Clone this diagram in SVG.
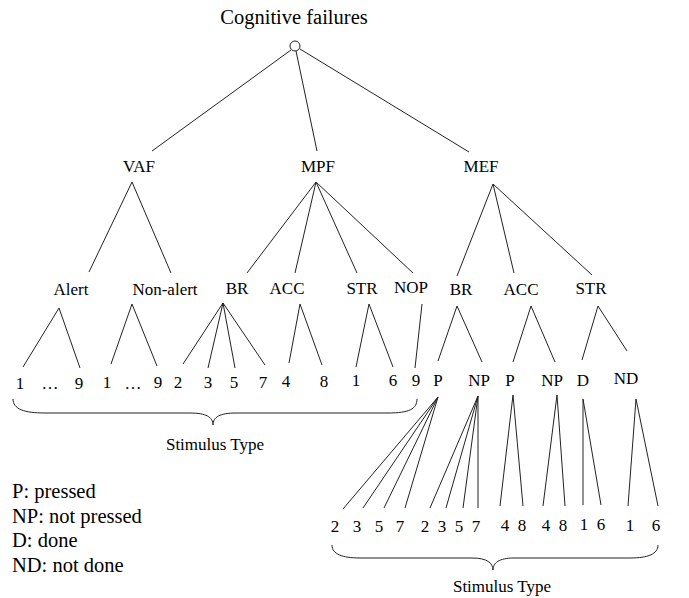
<svg xmlns="http://www.w3.org/2000/svg" width="689" height="598" viewBox="0 0 689 598">
<style>
text{font-family:"Liberation Serif","Times New Roman",serif;fill:#000;text-anchor:middle}
.t{font-size:20.5px}
.n{font-size:17px}
.lg{font-size:20.5px;text-anchor:start}
line,path{stroke:#222;stroke-width:1;fill:none}
</style>
<rect width="689" height="598" fill="#fff"/>
<g id="connectors">
<line x1="291" y1="50" x2="152" y2="151"/>
<line x1="296" y1="51" x2="317" y2="151"/>
<line x1="300" y1="49" x2="469" y2="152"/>
<line x1="132" y1="182" x2="89" y2="272"/>
<line x1="132" y1="182" x2="171" y2="273"/>
<line x1="316" y1="182" x2="247" y2="273"/>
<line x1="316" y1="182" x2="295" y2="273"/>
<line x1="316" y1="182" x2="357" y2="273"/>
<line x1="316" y1="182" x2="413" y2="273"/>
<line x1="493" y1="184" x2="457" y2="276"/>
<line x1="493" y1="184" x2="514" y2="273"/>
<line x1="493" y1="184" x2="592" y2="275"/>
<line x1="59" y1="308" x2="23" y2="367"/>
<line x1="59" y1="308" x2="80" y2="368"/>
<line x1="132" y1="304" x2="111" y2="364"/>
<line x1="132" y1="304" x2="157" y2="366"/>
<line x1="223" y1="303" x2="183" y2="364"/>
<line x1="223" y1="303" x2="208" y2="368"/>
<line x1="223" y1="303" x2="235" y2="368"/>
<line x1="223" y1="303" x2="265" y2="365"/>
<line x1="300" y1="304" x2="289" y2="363"/>
<line x1="300" y1="304" x2="322" y2="365"/>
<line x1="369" y1="304" x2="356" y2="367"/>
<line x1="369" y1="304" x2="393" y2="367"/>
<line x1="422" y1="304" x2="415" y2="368"/>
<line x1="457" y1="306" x2="438" y2="361"/>
<line x1="457" y1="306" x2="482" y2="362"/>
<line x1="531" y1="306" x2="513" y2="362"/>
<line x1="531" y1="306" x2="555" y2="362"/>
<line x1="598" y1="306" x2="582" y2="360"/>
<line x1="598" y1="306" x2="627" y2="351"/>
<line x1="438" y1="397" x2="343" y2="509"/>
<line x1="438" y1="397" x2="363" y2="508"/>
<line x1="438" y1="397" x2="384" y2="508"/>
<line x1="438" y1="397" x2="405" y2="508"/>
<line x1="478" y1="396" x2="430" y2="508"/>
<line x1="478" y1="396" x2="446" y2="508"/>
<line x1="478" y1="396" x2="463" y2="508"/>
<line x1="478" y1="396" x2="478" y2="508"/>
<line x1="513" y1="395" x2="500" y2="506"/>
<line x1="513" y1="395" x2="523" y2="506"/>
<line x1="557" y1="395" x2="543" y2="506"/>
<line x1="557" y1="395" x2="565" y2="506"/>
<line x1="583" y1="399" x2="583" y2="505"/>
<line x1="583" y1="399" x2="601" y2="505"/>
<line x1="636" y1="399" x2="628" y2="506"/>
<line x1="636" y1="399" x2="658" y2="506"/>
<path d="M13,399 C13,409 24,413 45,413 L190,413 C206,413 213,417 213,425 C213,417 220,413 236,413 L388,413 C409,413 417,409 417,399"/>
<path d="M332,545 C332,554 342,558 360,558 L472,558 C487,558 493,563 493,570 C493,563 499,558 514,558 L630,558 C648,558 658,554 658,545"/>
</g>
<g id="root"><text class="t" x="294" y="24">Cognitive failures</text><circle cx="295" cy="46" r="5" fill="#fff" stroke="#222" stroke-width="1"/></g>
<g id="vaf"><text class="n" x="139" y="172">VAF</text></g>
<g id="mpf"><text class="n" x="318" y="172">MPF</text></g>
<g id="mef"><text class="n" x="481" y="172">MEF</text></g>
<g id="alert"><text class="n" x="71" y="295">Alert</text></g>
<g id="nonalert"><text class="n" x="165" y="295">Non-alert</text></g>
<g id="mpf-br"><text class="n" x="237" y="294">BR</text></g>
<g id="mpf-acc"><text class="n" x="287" y="294">ACC</text></g>
<g id="mpf-str"><text class="n" x="362" y="294">STR</text></g>
<g id="mpf-nop"><text class="n" x="411" y="293">NOP</text></g>
<g id="mef-br"><text class="n" x="461" y="295">BR</text></g>
<g id="mef-acc"><text class="n" x="521" y="295">ACC</text></g>
<g id="mef-str"><text class="n" x="591" y="294">STR</text></g>
<g id="leaves1">
<text class="n" x="20" y="389">1</text>
<text class="n" x="50" y="389">…</text>
<text class="n" x="79" y="389">9</text>
<text class="n" x="107" y="388">1</text>
<text class="n" x="133" y="389">…</text>
<text class="n" x="158" y="388">9</text>
<text class="n" x="178" y="388">2</text>
<text class="n" x="208" y="388">3</text>
<text class="n" x="234" y="388">5</text>
<text class="n" x="263" y="388">7</text>
<text class="n" x="286" y="387">4</text>
<text class="n" x="324" y="387">8</text>
<text class="n" x="356" y="386">1</text>
<text class="n" x="393" y="386">6</text>
<text class="n" x="416" y="386">9</text>
</g>
<g id="mef-br-p"><text class="n" x="438" y="386">P</text></g>
<g id="mef-br-np"><text class="n" x="479" y="386">NP</text></g>
<g id="mef-acc-p"><text class="n" x="510" y="386">P</text></g>
<g id="mef-acc-np"><text class="n" x="552" y="386">NP</text></g>
<g id="mef-str-d"><text class="n" x="583" y="386">D</text></g>
<g id="mef-str-nd"><text class="n" x="626" y="384">ND</text></g>
<g id="leaves2">
<text class="n" x="335" y="532">2</text>
<text class="n" x="357" y="532">3</text>
<text class="n" x="379" y="532">5</text>
<text class="n" x="400" y="532">7</text>
<text class="n" x="425" y="532">2</text>
<text class="n" x="442" y="532">3</text>
<text class="n" x="459" y="532">5</text>
<text class="n" x="476" y="532">7</text>
<text class="n" x="505" y="531">4</text>
<text class="n" x="522" y="531">8</text>
<text class="n" x="546" y="531">4</text>
<text class="n" x="563" y="531">8</text>
<text class="n" x="584" y="530">1</text>
<text class="n" x="601" y="530">6</text>
<text class="n" x="630" y="531">1</text>
<text class="n" x="656" y="531">6</text>
</g>
<g id="stim1"><text class="n" x="215" y="450">Stimulus Type</text></g>
<g id="stim2"><text class="n" x="502" y="592">Stimulus Type</text></g>
<g id="legend">
<text class="lg" x="12" y="498">P: pressed</text>
<text class="lg" x="12" y="523">NP: not pressed</text>
<text class="lg" x="12" y="547">D: done</text>
<text class="lg" x="12" y="572">ND: not done</text>
</g>
</svg>
